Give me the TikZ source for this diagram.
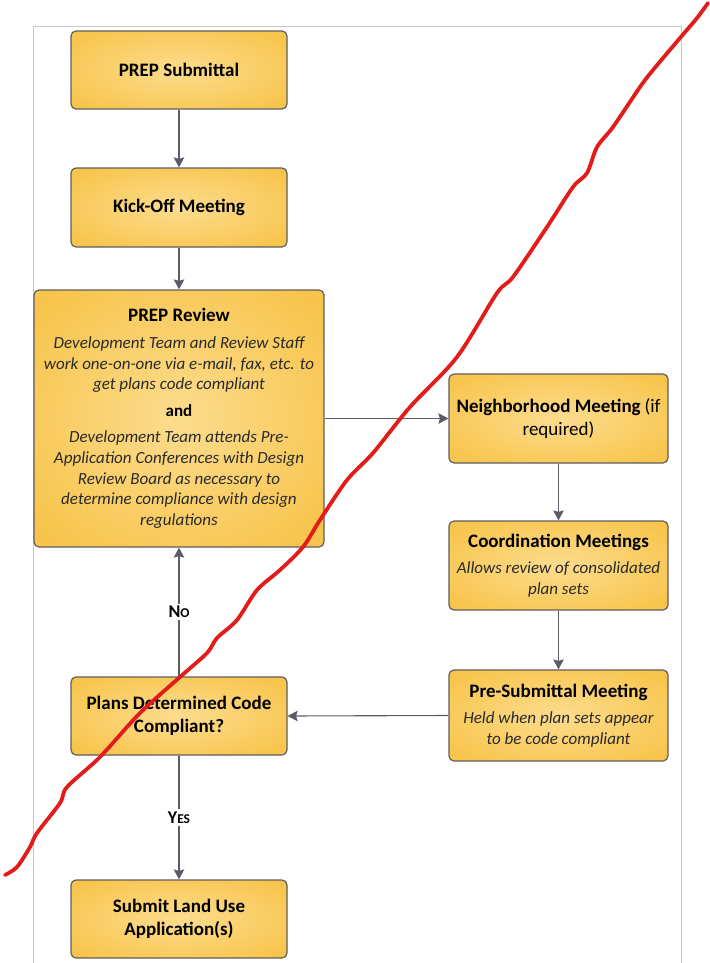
\documentclass[tikz,border=0pt]{standalone}
\usepackage{fontspec}
\setmainfont{Carlito}
\usetikzlibrary{arrows.meta}

\definecolor{boxin}{HTML}{FCDC8E}
\definecolor{boxout}{HTML}{F8C54C}
\definecolor{boxedge}{HTML}{5E5E5E}
\definecolor{flow}{HTML}{5C5C68}
\definecolor{marker}{HTML}{E21B1B}
\definecolor{framegray}{HTML}{C8C8C8}
\definecolor{notegray}{HTML}{2A2A2A}

% soft glow from the centre of each box to its edges
\pgfdeclareradialshading{boxglow}{\pgfpoint{0bp}{0bp}}{%
  color(0bp)=(boxin); color(32bp)=(boxout); color(50bp)=(boxout)}

\newcommand\steptitle{\fontsize{19}{22.7}\selectfont\bfseries\color{black}}
\newcommand\stepplain{\fontsize{19}{22.7}\selectfont\color{black}}
\newcommand\stepnote{\fontsize{17}{20.7}\selectfont\itshape\color{notegray}}
\newcommand\answerword[2]{\fontsize{18}{20}\selectfont\bfseries #1{\fontsize{13.5}{16}\selectfont #2}}

\tikzset{
  stepbox/.style={draw=boxedge, line width=1.2pt, rounded corners=5pt,
    shading=boxglow, align=center, inner sep=0pt,
    font=\fontsize{17}{20.7}\selectfont},
  flowline/.style={draw=flow, line width=1.1pt,
    -{Stealth[length=10pt,width=10.5pt,inset=1.5pt]}},
  answer/.style={fill=white, inner sep=2.5pt},
  frameline/.style={draw=framegray, line width=0.9pt},
}

\begin{document}
\begin{tikzpicture}[x=1pt,y=-1pt]
\useasboundingbox (0,0) rectangle (709,963);

% page frame
\draw[frameline] (33,963) -- (33,26) -- (681,26) -- (681,963);

% process steps
\node[stepbox, minimum width=216pt, minimum height=78pt] (submittal) at (179,70)
  {\steptitle PREP Submittal};
\node[stepbox, minimum width=216pt, minimum height=79pt] (kickoff) at (179,207.5)
  {\steptitle Kick-Off Meeting};
\node[stepbox, minimum width=290pt, minimum height=257pt] (review) at (179,418.5)
  {{\steptitle PREP Review}\\[6pt]
   {\stepnote Development Team and Review Staff}\\
   {\stepnote work one-on-one via e-mail, fax, etc. to}\\
   {\stepnote get plans code compliant}\\[5.5pt]
   {\steptitle\fontsize{17}{20.7}\selectfont and}\\[6pt]
   {\stepnote Development Team attends Pre-}\\
   {\stepnote Application Conferences with Design}\\
   {\stepnote Review Board as necessary to}\\
   {\stepnote determine compliance with design}\\
   {\stepnote regulations}};
\node[stepbox, minimum width=219pt, minimum height=89pt] (neighbor) at (558.5,418.5)
  {{\steptitle Neighborhood Meeting} {\stepplain (if}\\[2pt]
   {\stepplain required)}};
\node[stepbox, minimum width=219pt, minimum height=89pt] (coord) at (558.5,565.5)
  {{\steptitle Coordination Meetings}\\[5.5pt]
   {\stepnote Allows review of consolidated}\\
   {\stepnote plan sets}};
\node[stepbox, minimum width=219pt, minimum height=91pt] (presub) at (558.5,715.5)
  {{\steptitle Pre-Submittal Meeting}\\[6pt]
   {\stepnote Held when plan sets appear}\\
   {\stepnote to be code compliant}};
\node[stepbox, minimum width=216pt, minimum height=78pt] (decide) at (179,716)
  {{\steptitle Plans Determined Code}\\[2pt]
   {\steptitle Compliant?}};
\node[stepbox, minimum width=216pt, minimum height=78pt] (landuse) at (179,919)
  {{\steptitle Submit Land Use}\\[2pt]
   {\steptitle Application(s)}};

% connectors
\draw[flowline] (submittal) -- (kickoff);
\draw[flowline] (kickoff) -- (review);
\draw[flowline] (review.east) -- (neighbor.west);
\draw[flowline] (neighbor) -- (coord);
\draw[flowline] (coord) -- (presub);
\draw[flowline] (presub.west) -- (decide.east);
\draw[flowline] (decide) -- node[answer] (no) {\answerword{N}{O}} (review);
\draw[flowline] (decide) -- node[answer] (yes) {\answerword{Y}{ES}} (landuse);

% hand-drawn red stroke across the sheet
\draw[marker, line width=3.8pt, line cap=round, line join=round]
  plot[smooth, tension=0.5] coordinates {
  (708,3) (697,18) (680,38) (653,70) (640,87) (613,127) (597,147) (587,173)
  (573,187) (547,227) (513,277) (497,293) (457,357) (410,407) (373,453)
  (347,480) (320,520) (303,547) (280,570) (257,590) (237,620) (217,638)
  (207,653) (180,677) (140,713) (100,757) (67,787) (60,803) (37,833)
  (30,847) (17,867) (5,875)};
\end{tikzpicture}
\end{document}
